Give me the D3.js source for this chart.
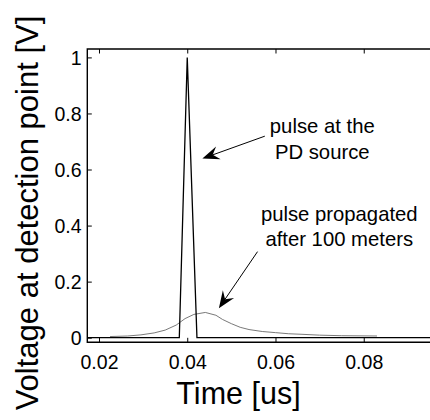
<!DOCTYPE html>
<html>
<head>
<meta charset="utf-8">
<script src="https://cdn.jsdelivr.net/npm/d3@7"></script>
<style>
  html, body { margin: 0; padding: 0; background: #fff; }
  svg { display: block; }
  text { font-family: "Liberation Sans", Arial, Helvetica, sans-serif; fill: #000; }
</style>
</head>
<body>
<svg id="chart" width="430" height="420"></svg>
<script>
// ---- data ----
const sourceTime = [0.01735, 0.0382, 0.0400, 0.0422, 0.1];
const sourceVolt = [0, 0, 1, 0, 0];

const propTime = [0.0225, 0.0265, 0.0295, 0.0325, 0.035, 0.0375, 0.0395, 0.0415, 0.0441, 0.0465,
                  0.048, 0.050, 0.052, 0.054, 0.057, 0.060, 0.063, 0.066, 0.070, 0.075, 0.083];
const propVolt = [0.004, 0.006, 0.010, 0.017, 0.027, 0.045, 0.068, 0.083, 0.090, 0.080,
                  0.065, 0.050, 0.037, 0.029, 0.022, 0.018, 0.014, 0.012, 0.009, 0.007, 0.006];

const xTicks = [0.02, 0.04, 0.06, 0.08];
const xTickLabels = ["0.02", "0.04", "0.06", "0.08"];
const yTicks = [0, 0.2, 0.4, 0.6, 0.8, 1];
const yTickLabels = ["0", "0.2", "0.4", "0.6", "0.8", "1"];

const xLabel = "Time [us]";
const yLabel = "Voltage at detection point [V]";
const annot1 = ["pulse at the", "PD source"];
const annot2 = ["pulse propagated", "after 100 meters"];

// ---- layout ----
const svg = d3.select("#chart");
const L = 87.3, R = 452, T = 49, B = 342.3;
const x = d3.scaleLinear().domain([0.01735, 0.1]).range([L, R]);
const y = d3.scaleLinear().domain([-0.0165, 1.03]).range([B, T]);

// curves
const line = d3.line().x(d => x(d[0])).y(d => y(d[1]));
svg.append("path")
  .datum(propTime.map((t, i) => [t, propVolt[i]]))
  .attr("d", line).attr("fill", "none")
  .attr("stroke", "#6a6a6a").attr("stroke-width", 0.9);
svg.append("path")
  .datum(sourceTime.map((t, i) => [t, sourceVolt[i]]))
  .attr("d", line).attr("fill", "none")
  .attr("stroke", "#000").attr("stroke-width", 1.3);

// axes
const tickLen = 4.5;
const gx = svg.append("g").attr("transform", `translate(0,${B})`)
  .call(d3.axisBottom(x).tickValues(xTicks).tickFormat((d, i) => xTickLabels[i])
        .tickSizeInner(-tickLen).tickSizeOuter(0));
gx.select(".domain").remove();
gx.selectAll(".tick line").attr("stroke", "#000").attr("stroke-width", 1);
gx.selectAll(".tick text").attr("y", 27.2).attr("dy", null)
  .style("font-size", "19.5px").style("font-family", "'Liberation Sans', Arial, sans-serif");

const gxTop = svg.append("g").attr("transform", `translate(0,${T})`)
  .call(d3.axisTop(x).tickValues(xTicks).tickFormat("")
        .tickSizeInner(-tickLen).tickSizeOuter(0));
gxTop.select(".domain").remove();
gxTop.selectAll(".tick line").attr("stroke", "#000").attr("stroke-width", 1);

const gy = svg.append("g").attr("transform", `translate(${L},0)`)
  .call(d3.axisLeft(y).tickValues(yTicks).tickFormat((d, i) => yTickLabels[i])
        .tickSizeInner(-tickLen).tickSizeOuter(0));
gy.select(".domain").remove();
gy.selectAll(".tick line").attr("stroke", "#000").attr("stroke-width", 1);
gy.selectAll(".tick text").attr("x", -5.8).attr("dy", "0.35em")
  .style("font-size", "19.5px").style("font-family", "'Liberation Sans', Arial, sans-serif");

// box lines (left, top, bottom; right side lies off canvas)
svg.append("path")
  .attr("d", `M${R},${T}H${L}V${B}H${R}`)
  .attr("fill", "none").attr("stroke", "#000").attr("stroke-width", 1.4);

// axis labels
svg.append("text").attr("x", 238.5).attr("y", 403.5)
  .attr("text-anchor", "middle").style("font-size", "30.5px").text(xLabel);
svg.append("text")
  .attr("transform", "translate(37.5,213) rotate(-90)")
  .attr("text-anchor", "middle").style("font-size", "31px").text(yLabel);

// annotations
function annText(lines, tx, ty1, ty2) {
  const t = svg.append("text").attr("text-anchor", "middle").style("font-size", "20.3px");
  t.append("tspan").attr("x", x(tx)).attr("y", y(ty1)).text(lines[0]);
  t.append("tspan").attr("x", x(tx)).attr("y", y(ty2)).text(lines[1]);
}
function arrow(t0, v0, t1, v1) {
  const x0 = x(t0), y0 = y(v0), x1 = x(t1), y1 = y(v1);
  const dx = x1 - x0, dy = y1 - y0, len = Math.hypot(dx, dy);
  const ux = dx / len, uy = dy / len, px = -uy, py = ux;
  const hl = 17, hw = 6.8, notch = 11;
  svg.append("line").attr("x1", x0).attr("y1", y0)
    .attr("x2", x1 - ux * notch).attr("y2", y1 - uy * notch)
    .attr("stroke", "#000").attr("stroke-width", 1);
  const bx = x1 - ux * hl, by = y1 - uy * hl;
  const nx = x1 - ux * notch, ny = y1 - uy * notch;
  svg.append("path")
    .attr("d", `M${x1},${y1}L${bx + px * hw},${by + py * hw}L${nx},${ny}L${bx - px * hw},${by - py * hw}Z`)
    .attr("fill", "#000");
}
annText(annot1, 0.0706, 0.730, 0.639);
annText(annot2, 0.07445, 0.416, 0.327);
arrow(0.05758, 0.719, 0.04343, 0.639);
arrow(0.05593, 0.307, 0.04717, 0.105);
</script>
</body>
</html>
